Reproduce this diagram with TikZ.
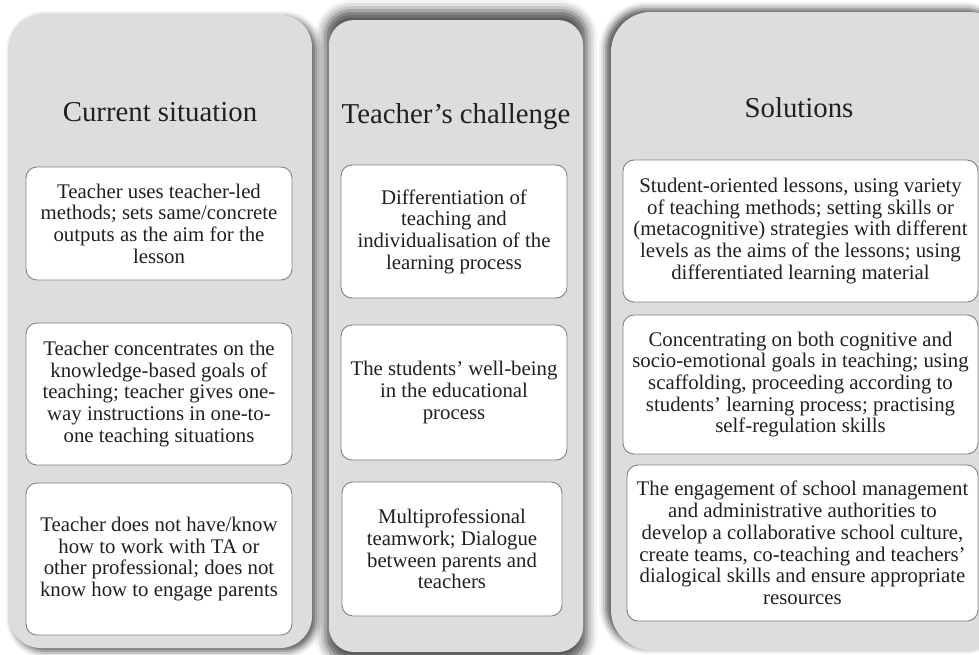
\documentclass[tikz,border=0pt]{standalone}
\usepackage{fontspec}
\setmainfont{Liberation Serif}
\usetikzlibrary{shadows.blur}
\definecolor{panelgrey}{RGB}{220,221,223}
\definecolor{boxline}{RGB}{130,130,130}
\definecolor{inktext}{RGB}{35,31,32}
\tikzset{
  panel/.style={draw=none, fill=panelgrey, inner sep=0pt},
  textbox/.style={draw=boxline, line width=0.9pt, fill=white, rounded corners=11pt,
    inner sep=0pt, align=center, text=inktext, font=\fontsize{20.8}{21.7}\selectfont},
  title/.style={anchor=base, inner sep=0pt, font=\fontsize{28.8}{30}\selectfont, text=inktext},
}
\begin{document}
\begin{tikzpicture}[x=1pt,y=-1pt]
\useasboundingbox (0,0) rectangle (979,654);
% panels
\node[panel, rounded corners=32pt, minimum width=303pt, minimum height=633pt,
  blur shadow={shadow xshift=4pt, shadow yshift=-3pt, shadow blur radius=7pt, shadow opacity=70}]
  (p1) at (160.5,331.5) {};
\node[panel, rounded corners=25pt, minimum width=254pt, minimum height=632pt,
  blur shadow={shadow xshift=0pt, shadow yshift=0pt, shadow blur radius=10pt, shadow opacity=70, shadow scale=1.03}]
  (p2) at (456,336) {};
\node[panel, rounded corners=40pt, minimum width=399pt, minimum height=638pt,
  blur shadow={shadow xshift=-5pt, shadow yshift=3pt, shadow blur radius=7pt, shadow opacity=70}]
  (p3) at (810.5,331) {};
% titles
\node[title] (t1) at (160,121) {Current situation};
\node[title] (t2) at (456,123) {Teacher’s challenge};
\node[title] (t3) at (799,117) {Solutions};
% column 1
\node[textbox, minimum width=266pt, minimum height=113pt] (a1) at (159,223.5)
  {Teacher uses teacher-led\\methods; sets same/concrete\\outputs as the aim for the\\lesson};
\node[textbox, minimum width=266pt, minimum height=142pt] (a2) at (159,394)
  {Teacher concentrates on the\\knowledge-based goals of\\teaching; teacher gives one-\\way instructions in one-to-\\one teaching situations};
\node[textbox, minimum width=266pt, minimum height=152pt] (a3) at (159,559)
  {Teacher does not have/know\\how to work with TA or\\other professional; does not\\know how to engage parents};
% column 2
\node[textbox, minimum width=226pt, minimum height=133pt] (b1) at (454,231.5)
  {Differentiation of\\teaching and\\individualisation of the\\learning process};
\node[textbox, minimum width=226pt, minimum height=135pt] (b2) at (454,392.5)
  {The students’ well-being\\in the educational\\process};
\node[textbox, minimum width=220pt, minimum height=134pt] (b3) at (452,549)
  {Multiprofessional\\teamwork; Dialogue\\between parents and\\teachers};
% column 3
\node[textbox, minimum width=355pt, minimum height=142pt] (c1) at (800.5,231)
  {Student-oriented lessons, using variety\\of teaching methods; setting skills or\\(metacognitive) strategies with different\\levels as the aims of the lessons; using\\differentiated learning material};
\node[textbox, minimum width=355pt, minimum height=139pt] (c2) at (800.5,384.5)
  {Concentrating on both cognitive and\\socio-emotional goals in teaching; using\\scaffolding, proceeding according to\\students’ learning process; practising\\self-regulation skills};
\node[textbox, minimum width=351pt, minimum height=156pt] (c3) at (802.5,543)
  {The engagement of school management\\and administrative authorities to\\develop a collaborative school culture,\\create teams, co-teaching and teachers’\\dialogical skills and ensure appropriate\\resources};
\end{tikzpicture}
\end{document}
